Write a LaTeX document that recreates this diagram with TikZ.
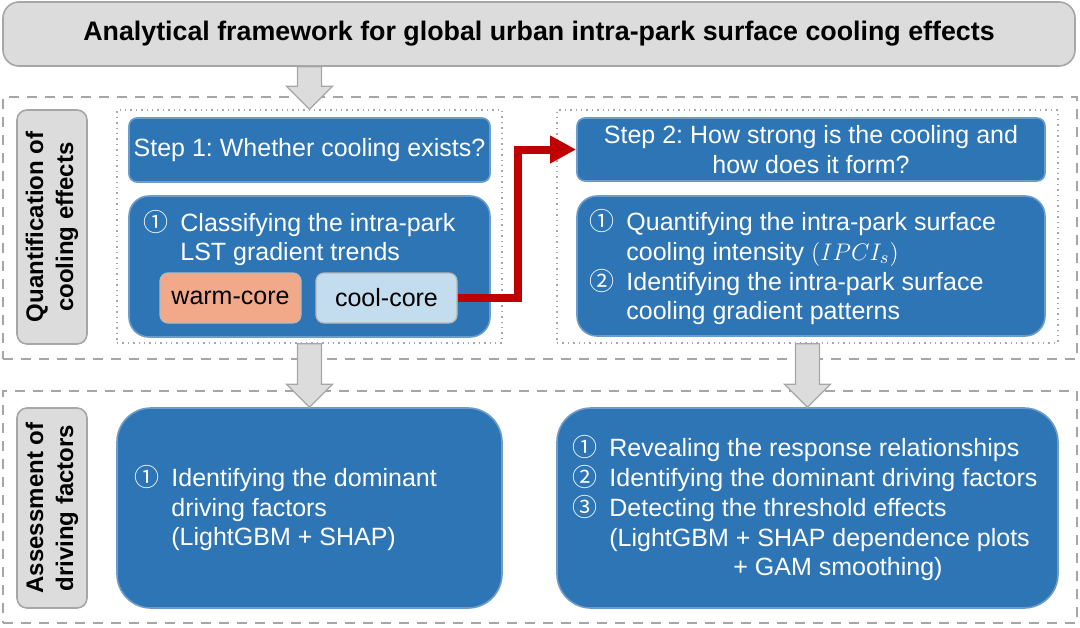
\documentclass[tikz,border=0pt]{standalone}
\usepackage{fontspec}
\setmainfont{Liberation Sans}
\newfontfamily\cjk{Noto Sans CJK SC}
\usetikzlibrary{arrows.meta,fit,calc}
\frenchspacing

\definecolor{boxblue}{HTML}{2E75B6}
\definecolor{edgeblue}{HTML}{6E9CC8}
\definecolor{lightgray}{HTML}{DCDCDC}
\definecolor{linegray}{HTML}{A6A6A6}
\definecolor{warmfill}{HTML}{F2A98A}
\definecolor{coolfill}{HTML}{C3DCEE}
\definecolor{arrowred}{HTML}{C00000}

\newcommand{\cnum}[1]{{\cjk #1}}
% block arrow from #1 down to #2 (same x)
\newcommand{\grayarrow}[2]{%
  \filldraw[bigarrow] ($(#1)+(-12,0)$) -- ($(#2)+(-12,-23)$) -- ($(#2)+(-23,-23)$)
    -- (#2) -- ($(#2)+(23,-23)$) -- ($(#2)+(12,-23)$) -- ($(#1)+(12,0)$) -- cycle;}

\tikzset{
  bluebox/.style={draw=edgeblue, line width=0.8pt, fill=boxblue, inner sep=0pt},
  graybox/.style={draw=linegray, line width=0.8pt, fill=lightgray, inner sep=0pt},
  section/.style={draw=linegray, line width=0.7pt, dash pattern=on 5pt off 4pt},
  dotbox/.style={draw=linegray, line width=0.7pt, dotted},
  txt/.style={text=white, inner sep=0pt, align=left, font=\fontsize{12.5}{14.75}\selectfont},
  tag/.style={draw=linegray!80, line width=0.6pt, rounded corners=4pt, inner sep=0pt},
  bigarrow/.style={fill=lightgray, draw=linegray, line width=0.6pt},
}

\begin{document}
\begin{tikzpicture}[x=0.5pt, y=-0.5pt]
\useasboundingbox (0,0) rectangle (1080,627);

% title
\node[graybox, rounded corners=8pt, fit={(3,2) (1075,66)}] (title) {};
\node[font=\bfseries\fontsize{13.4}{16}\selectfont] (titleT) at (title.center)
  {Analytical framework for global urban intra-park surface cooling effects};

% sections
\node[section, inner sep=0pt, fit={(3,97) (1077,359)}] (sec1) {};
\node[section, inner sep=0pt, fit={(3,391) (1077,623)}] (sec2) {};

\node[graybox, rounded corners=5pt, fit={(17,110) (87,344)}] (lab1) {};
\node[rotate=90, align=center, font=\bfseries\fontsize{12}{15}\selectfont] (lab1T) at (lab1.center)
  {Quantification of\\cooling effects};
\node[graybox, rounded corners=5pt, fit={(17,408) (87,608)}] (lab2) {};
\node[rotate=90, align=center, font=\bfseries\fontsize{12}{15}\selectfont] (lab2T) at (lab2.center)
  {Assessment of\\driving factors};

\node[dotbox, inner sep=0pt, fit={(117,110) (502,343)}] (dotL) {};
\node[dotbox, inner sep=0pt, fit={(557,110) (1058,343)}] (dotR) {};

% step 1
\node[bluebox, rounded corners=4pt, fit={(129,118) (490,182)}] (step1) {};
\node[txt] (step1T) at (step1.center) {Step 1: Whether cooling exists?};
\node[bluebox, rounded corners=10pt, fit={(129,196) (490,337)}] (cls) {};
\node[txt, anchor=west] (clsT) at (143,240)
  {\begin{tabular}{@{}l@{\hspace{6pt}}l@{}}\cnum{①} & Classifying the intra-park\\ & LST gradient trends\end{tabular}};
\node[tag, fill=warmfill, fit={(160,273) (301,323)}] (warm) {};
\node[txt, text=black] (warmT) at (warm.center) {warm-core};
\node[tag, fill=coolfill, fit={(316,273) (457,323)}] (cool) {};
\node[txt, text=black] (coolT) at (cool.center) {cool-core};

% step 2
\node[bluebox, rounded corners=4pt, fit={(577,118) (1045,181)}] (step2) {};
\node[txt, align=center] (step2T) at (step2.center)
  {Step 2: How strong is the cooling and\\how does it form?};
\node[bluebox, rounded corners=10pt, fit={(577,196) (1045,336)}] (quant) {};
\node[txt, anchor=west] (quantT) at (589,269)
  {\begin{tabular}{@{}l@{\hspace{6pt}}l@{}}\cnum{①} & Quantifying the intra-park surface\\
   & cooling intensity $(IPCI_s)$\\
   \cnum{②} & Identifying the intra-park surface\\
   & cooling gradient patterns\end{tabular}};

% driving factors
\node[bluebox, rounded corners=17pt, fit={(117,408) (502,608)}] (drvL) {};
\node[txt, anchor=west] (drvLT) at (134,510)
  {\begin{tabular}{@{}l@{\hspace{6pt}}l@{}}\cnum{①} & Identifying the dominant\\
   & driving factors\\ & (LightGBM + SHAP)\end{tabular}};
\node[bluebox, rounded corners=17pt, fit={(557,408) (1058,608)}] (drvR) {};
\node[txt, anchor=west] (drvRT) at (572,510)
  {\begin{tabular}{@{}l@{\hspace{6pt}}l@{}}\cnum{①} & Revealing the response relationships\\
   \cnum{②} & Identifying the dominant driving factors\\
   \cnum{③} & Detecting the threshold effects\\
   & (LightGBM + SHAP dependence plots\\
   & \hspace{62pt}+ GAM smoothing)\end{tabular}};

% arrows
\coordinate (topS) at (title.south -| drvL.north);
\coordinate (topE) at (dotL.north -| drvL.north);
\grayarrow{topS}{topE}
\coordinate (leftS) at (dotL.south -| drvL.north);
\grayarrow{leftS}{drvL.north}
\coordinate (rightS) at (dotR.south -| drvR.north);
\grayarrow{rightS}{drvR.north}

\draw[arrowred, line width=4pt, -{Triangle[width=13pt,length=13pt]}]
  (cool.east) -- ++(60,0) |- (step2.west);

\end{tikzpicture}
\end{document}
